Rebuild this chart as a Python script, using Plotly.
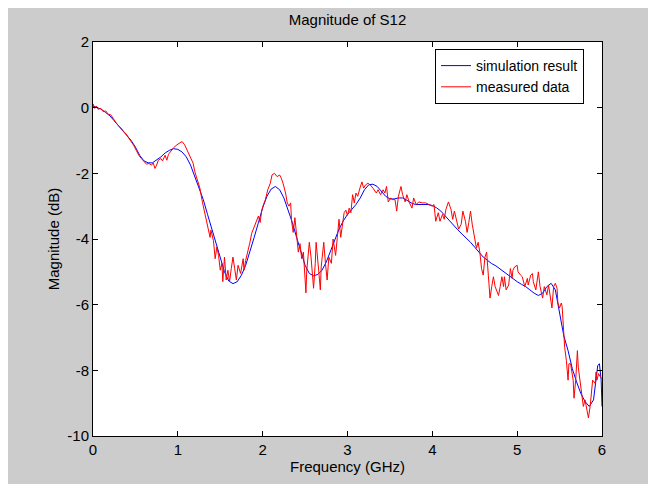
import plotly.graph_objects as go

# ---- data ----
sim_freq = [0.00, 0.05, 0.10, 0.15, 0.20, 0.25, 0.30, 0.35, 0.40, 0.45, 0.50, 0.55, 0.60, 0.65, 0.70,
            0.75, 0.80, 0.85, 0.90, 0.95, 1.00, 1.05, 1.10, 1.15, 1.20, 1.25, 1.30, 1.35, 1.40, 1.45,
            1.50, 1.55, 1.60, 1.65, 1.70, 1.75, 1.80, 1.85, 1.90, 1.95, 2.00, 2.05, 2.10, 2.15, 2.20,
            2.25, 2.30, 2.35, 2.40, 2.45, 2.50, 2.55, 2.60, 2.65, 2.70, 2.75, 2.80, 2.85, 2.90, 2.95,
            3.00, 3.05, 3.10, 3.15, 3.20, 3.25, 3.30, 3.35, 3.40, 3.45, 3.50, 3.55, 3.60, 3.65, 3.70,
            3.75, 3.80, 3.85, 3.90, 3.95, 4.00, 4.05, 4.10, 4.15, 4.20, 4.25, 4.30, 4.35, 4.40, 4.45,
            4.50, 4.55, 4.60, 4.65, 4.70, 4.75, 4.80, 4.85, 4.90, 4.95, 5.00, 5.05, 5.10, 5.15, 5.20,
            5.25, 5.30, 5.35, 5.40, 5.45, 5.50, 5.55, 5.60, 5.65, 5.70, 5.75, 5.80, 5.85, 5.90, 5.95,
            5.97, 5.99, 6.00]
sim_db = [0.05, 0.00, -0.05, -0.15, -0.25, -0.40, -0.55, -0.70, -0.85, -1.00, -1.20, -1.45, -1.62, -1.68, -1.68,
          -1.60, -1.50, -1.38, -1.30, -1.25, -1.27, -1.35, -1.50, -1.75, -2.10, -2.45, -2.80, -3.25, -3.70, -4.15,
          -4.60, -5.00, -5.28, -5.36, -5.30, -5.10, -4.80, -4.40, -3.95, -3.50, -3.05, -2.70, -2.48, -2.40, -2.50,
          -2.75, -3.10, -3.50, -3.95, -4.40, -4.80, -5.05, -5.12, -5.08, -4.95, -4.70, -4.35, -4.00, -3.70, -3.45,
          -3.25, -3.10, -2.95, -2.75, -2.50, -2.35, -2.33, -2.40, -2.55, -2.70, -2.78, -2.78, -2.75, -2.75, -2.82,
          -2.90, -2.95, -2.95, -2.95, -2.95, -2.98, -3.05, -3.15, -3.30, -3.45, -3.60, -3.72, -3.85, -3.97, -4.10,
          -4.25, -4.40, -4.55, -4.65, -4.75, -4.82, -4.92, -5.02, -5.12, -5.22, -5.30, -5.38, -5.45, -5.55, -5.65,
          -5.72, -5.65, -5.45, -5.35, -5.55, -6.30, -6.95, -7.40, -7.95, -8.35, -8.70, -8.95, -9.10, -8.90, -7.85,
          -7.80, -8.30, -9.10]

meas_freq = [0.00, 0.02, 0.04, 0.06, 0.09, 0.12, 0.15, 0.18, 0.21, 0.24, 0.27, 0.30, 0.33, 0.36, 0.39,
             0.42, 0.45, 0.48, 0.51, 0.54, 0.57, 0.60, 0.63, 0.66, 0.69, 0.71, 0.73, 0.75, 0.77, 0.80,
             0.82, 0.85, 0.87, 0.89, 0.91, 0.95, 0.99, 1.02, 1.05, 1.08, 1.12, 1.15, 1.18, 1.20, 1.22,
             1.26, 1.29, 1.32, 1.34, 1.36, 1.38, 1.39, 1.42, 1.44, 1.46, 1.48, 1.50, 1.52, 1.53, 1.55,
             1.57, 1.59, 1.61, 1.63, 1.65, 1.67, 1.69, 1.71, 1.74, 1.77, 1.78, 1.80, 1.83, 1.85, 1.87,
             1.89, 1.91, 1.93, 1.95, 1.97, 1.99, 2.01, 2.03, 2.06, 2.09, 2.11, 2.14, 2.17, 2.20, 2.22,
             2.24, 2.27, 2.29, 2.31, 2.33, 2.34, 2.36, 2.38, 2.40, 2.42, 2.44, 2.46, 2.48, 2.50, 2.51,
             2.52, 2.55, 2.57, 2.59, 2.60, 2.62, 2.63, 2.66, 2.68, 2.69, 2.72, 2.74, 2.76, 2.78, 2.81,
             2.83, 2.86, 2.88, 2.90, 2.92, 2.94, 2.96, 2.98, 3.00, 3.02, 3.04, 3.06, 3.08, 3.10, 3.12,
             3.15, 3.17, 3.19, 3.21, 3.24, 3.27, 3.30, 3.34, 3.36, 3.39, 3.42, 3.44, 3.46, 3.48, 3.51,
             3.53, 3.56, 3.58, 3.60, 3.63, 3.65, 3.68, 3.70, 3.73, 3.76, 3.78, 3.81, 3.84, 3.88, 3.92,
             3.96, 4.00, 4.02, 4.04, 4.07, 4.09, 4.12, 4.14, 4.16, 4.19, 4.22, 4.24, 4.26, 4.28, 4.31,
             4.34, 4.36, 4.39, 4.41, 4.43, 4.45, 4.47, 4.50, 4.52, 4.54, 4.56, 4.58, 4.60, 4.62, 4.64,
             4.66, 4.68, 4.70, 4.72, 4.74, 4.76, 4.78, 4.80, 4.82, 4.84, 4.85, 4.87, 4.90, 4.92, 4.94,
             4.95, 4.97, 5.00, 5.01, 5.04, 5.06, 5.09, 5.12, 5.13, 5.16, 5.18, 5.19, 5.22, 5.24, 5.25,
             5.27, 5.30, 5.32, 5.35, 5.37, 5.39, 5.41, 5.43, 5.45, 5.47, 5.48, 5.50, 5.52, 5.53, 5.55,
             5.56, 5.58, 5.60, 5.61, 5.63, 5.66, 5.67, 5.69, 5.71, 5.72, 5.75, 5.77, 5.78, 5.80, 5.83,
             5.84, 5.86, 5.88, 5.89, 5.92, 5.93, 5.94, 5.96, 5.98, 6.00]
meas_db = [0.12, -0.02, 0.05, -0.05, -0.02, -0.12, -0.10, -0.20, -0.22, -0.35, -0.45, -0.55, -0.62, -0.72, -0.80,
           -0.92, -1.02, -1.15, -1.30, -1.45, -1.55, -1.65, -1.72, -1.70, -1.75, -1.68, -1.85, -1.75, -1.60, -1.55,
           -1.62, -1.45, -1.60, -1.42, -1.35, -1.22, -1.13, -1.08, -1.03, -1.13, -1.35, -1.50, -1.69, -1.95, -2.10,
           -2.45, -2.88, -3.22, -3.43, -3.69, -3.95, -3.73, -4.05, -4.60, -4.24, -4.50, -4.95, -4.74, -5.30, -4.55,
           -5.25, -4.95, -5.30, -4.90, -4.55, -4.90, -5.25, -4.80, -5.05, -4.60, -4.95, -4.65, -4.35, -4.10, -3.83,
           -3.70, -3.52, -3.43, -3.30, -3.50, -3.12, -2.95, -2.82, -2.50, -2.30, -2.05, -2.00, -2.10, -2.05, -2.15,
           -2.30, -2.60, -2.90, -3.00, -2.90, -3.43, -3.80, -3.35, -3.95, -4.40, -4.14, -4.60, -4.40, -5.35, -5.64,
           -4.95, -4.10, -4.55, -5.35, -5.50, -4.74, -4.10, -4.95, -5.55, -4.85, -4.10, -4.74, -5.25, -4.55, -4.74,
           -4.00, -4.50, -3.95, -3.40, -3.95, -3.60, -3.20, -3.12, -3.28, -3.06, -3.20, -2.65, -2.90, -2.60, -2.70,
           -2.42, -2.26, -2.45, -2.36, -2.30, -2.36, -2.45, -2.60, -2.50, -2.65, -2.50, -2.60, -2.40, -2.87, -2.75,
           -2.80, -2.80, -3.15, -2.70, -2.40, -2.65, -2.87, -2.65, -2.90, -3.06, -2.75, -2.95, -2.87, -2.90, -2.90,
           -2.95, -3.00, -2.95, -3.46, -3.20, -3.46, -3.25, -3.40, -3.10, -2.87, -3.10, -3.40, -3.15, -3.40, -3.70,
           -3.55, -3.15, -3.46, -3.80, -3.50, -3.15, -3.55, -4.05, -4.28, -4.10, -4.40, -4.90, -5.10, -4.55, -4.40,
           -5.10, -5.80, -5.45, -5.15, -5.45, -5.60, -5.72, -5.45, -5.15, -5.45, -5.15, -5.55, -5.40, -4.90, -5.20,
           -4.95, -4.85, -4.80, -5.00, -5.10, -5.15, -5.45, -5.20, -5.40, -5.10, -5.05, -5.30, -5.55, -5.20, -5.00,
           -5.45, -5.80, -5.45, -5.70, -5.40, -5.80, -6.10, -5.45, -5.35, -5.50, -5.95, -6.10, -5.95, -6.05, -6.95,
           -7.30, -7.70, -8.30, -7.80, -7.80, -8.30, -8.85, -8.30, -7.40, -7.90, -8.60, -8.90, -9.10, -8.90, -9.30,
           -9.45, -9.10, -8.60, -8.30, -8.40, -8.05, -8.30, -8.10, -8.20, -8.25]

x_ticks = [0, 1, 2, 3, 4, 5, 6]
x_tick_labels = ["0", "1", "2", "3", "4", "5", "6"]
y_ticks = [-10, -8, -6, -4, -2, 0, 2]
y_tick_labels = ["-10", "-8", "-6", "-4", "-2", "0", "2"]

FONT = "Liberation Sans, Arial, sans-serif"

fig = go.Figure()
fig.add_trace(go.Scatter(x=sim_freq, y=sim_db, mode="lines", name="simulation result",
                         line=dict(color="#0000ff", width=1)))
fig.add_trace(go.Scatter(x=meas_freq, y=meas_db, mode="lines", name="measured data",
                         line=dict(color="#ff0000", width=1)))

axis_common = dict(showline=True, linecolor="black", linewidth=1, mirror="ticks",
                   ticks="inside", ticklen=5, tickcolor="black", tickwidth=1,
                   showgrid=False, zeroline=False,
                   tickfont=dict(family=FONT, size=15, color="black"))

fig.update_layout(
    width=656, height=484,
    margin=dict(l=85, r=62, t=34, b=56),
    paper_bgcolor="#cccccc",
    plot_bgcolor="white",
    font=dict(family=FONT, size=15, color="black"),
    title=dict(text="Magnitude of S12", x=0.5, xref="paper", xanchor="center",
               y=1 - 12 / 484, yref="container", yanchor="middle",
               font=dict(family=FONT, size=15, color="black")),
    xaxis=dict(range=[0, 6], tickvals=x_ticks, ticktext=x_tick_labels,
               title=dict(text="Frequency (GHz)", font=dict(family=FONT, size=15), standoff=4),
               **axis_common),
    yaxis=dict(range=[-10, 2], tickvals=y_ticks, ticktext=y_tick_labels,
               title=dict(text="Magnitude (dB)", font=dict(family=FONT, size=15), standoff=4),
               **axis_common),
    legend=dict(x=(584 - 93) / 509, y=(436 - 49) / 394, xanchor="right", yanchor="top",
                bgcolor="white", bordercolor="black", borderwidth=1,
                font=dict(family=FONT, size=14, color="black"),
                tracegroupgap=0, itemwidth=30),
    showlegend=True,
)

fig.write_html("out.html")
